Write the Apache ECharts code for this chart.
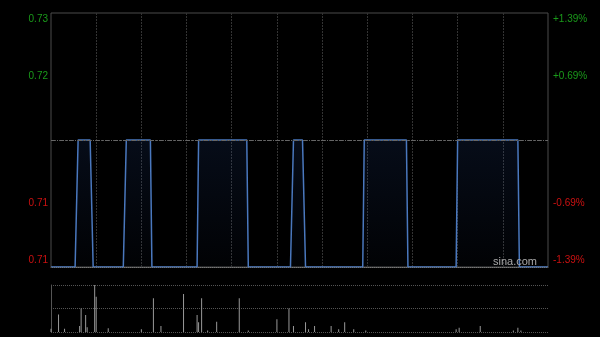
<!DOCTYPE html>
<html>
<head>
<meta charset="utf-8">
<style>html,body{margin:0;padding:0;background:#000;}#c{width:600px;height:337px;}</style>
<script src="https://cdn.jsdelivr.net/npm/echarts@6/dist/echarts.min.js"></script>
</head>
<body>
<div id="c"></div>
<script>
// price read as runs of equal minute values: [price, number of minutes]
const priceRuns = [[0.71,18],[0.72,10],[0.71,22],[0.72,17],[0.71,31],[0.72,33],[0.71,30],[0.72,8],[0.71,39],[0.72,29],[0.71,33],[0.72,41],[0.71,20]];
// volume spikes: [minute index, shares]
const volumes = [[0,7000],[5,37000],[9,7000],[19,13000],[20,50000],[23,36000],[24,10000],[29,100000],[30,75000],[38,8000],[60,6000],[68,72000],[73,13000],[88,81000],[97,36000],[98,21000],[100,72000],[104,3000],[110,22000],[125,72000],[131,3000],[150,27000],[158,50000],[161,13000],[169,21000],[171,6000],[175,13000],[186,13000],[191,6000],[195,21000],[201,6000],[209,3000],[269,6000],[271,9000],[285,13000],[307,3000],[310,9000],[312,3000]];
const prevClose = 0.72;
const priceTicks = [0.71, 0.715, 0.72, 0.725, 0.73];
const leftLabels = ['0.71', '0.71', '', '0.72', '0.73'];
const rightLabels = ['-1.39%', '-0.69%', '', '+0.69%', '+1.39%'];
const volMax = 100000;

const prices = [];
priceRuns.forEach(r => { for (let k = 0; k < r[1]; k++) prices.push(r[0]); });
const cats = prices.map((_, i) => i);

function tickIndex(v) { return Math.round((v - priceTicks[0]) / (priceTicks[1] - priceTicks[0])); }
function makeFmt(labels) {
  return function (v) {
    const i = tickIndex(v);
    const t = labels[i];
    if (!t) return '';
    const n = priceTicks.length - 1;
    const up = priceTicks[i] > prevClose;
    let key = up ? 'g' : 'r';
    if (i === n) key = 'gt';
    if (i === 0) key = 'rb';
    return '{' + key + '|' + t + '}';
  };
}
const GREEN = '#1a9a1a', RED = '#cc1111';
const rich = {
  g: {color: GREEN, fontSize: 10, fontFamily: 'Liberation Sans, Arial, sans-serif'},
  gt: {color: GREEN, fontSize: 10, fontFamily: 'Liberation Sans, Arial, sans-serif', padding: [12, 0, 0, 0]},
  r: {color: RED, fontSize: 10, fontFamily: 'Liberation Sans, Arial, sans-serif'},
  rb: {color: RED, fontSize: 10, fontFamily: 'Liberation Sans, Arial, sans-serif', padding: [0, 0, 13, 0]}
};

const chart = echarts.init(document.getElementById('c'), null, {renderer: 'canvas'});
chart.setOption({
  backgroundColor: '#000',
  animation: false,
  grid: [
    {left: 51, right: 52, top: 13, height: 254, show: true, borderColor: '#4a4a4a', borderWidth: 1, backgroundColor: 'transparent'},
    {left: 51, right: 52, top: 285, height: 47, show: false}
  ],
  xAxis: [
    {type: 'category', gridIndex: 0, data: cats, boundaryGap: false,
     axisLine: {show: true, lineStyle: {color: '#777', width: 1}}, axisTick: {show: false}, axisLabel: {show: false},
     splitLine: {show: true, interval: (i) => i % 30 === 0 && i > 0 && i < 330, lineStyle: {color: '#333', type: [2, 1], width: 1}}},
    {type: 'category', gridIndex: 1, data: cats, boundaryGap: false,
     axisLine: {show: false}, axisTick: {show: false}, axisLabel: {show: false}, splitLine: {show: false}}
  ],
  yAxis: [
    {type: 'value', gridIndex: 0, min: priceTicks[0], max: priceTicks[4], interval: 0.005, position: 'left',
     axisLine: {show: false}, axisTick: {show: false}, splitLine: {show: false},
     axisLabel: {show: true, margin: 3, formatter: makeFmt(leftLabels), rich: rich}},
    {type: 'value', gridIndex: 0, min: priceTicks[0], max: priceTicks[4], interval: 0.005, position: 'right',
     axisLine: {show: false}, axisTick: {show: false}, splitLine: {show: false},
     axisLabel: {show: true, margin: 5, formatter: makeFmt(rightLabels), rich: rich}},
    {type: 'value', gridIndex: 1, min: 0, max: volMax, interval: volMax / 2,
     axisLine: {show: true, lineStyle: {color: '#555'}}, axisTick: {show: false}, axisLabel: {show: false},
     splitLine: {show: true, lineStyle: {color: '#555', type: [1, 1]}}}
  ],
  series: [
    {type: 'line', xAxisIndex: 0, yAxisIndex: 0, data: prices, symbol: 'none', smooth: false,
     lineStyle: {color: '#4a78be', width: 1.5},
     areaStyle: {origin: 'start', color: new echarts.graphic.LinearGradient(0, 0, 0, 1, [
       {offset: 0, color: 'rgba(40,80,160,0.22)'}, {offset: 1, color: 'rgba(40,80,160,0.04)'}])},
     markLine: {silent: true, symbol: 'none', label: {show: false},
       data: [
         {yAxis: priceTicks[1], lineStyle: {color: '#555', type: [1, 1], width: 1}},
         {yAxis: priceTicks[3], lineStyle: {color: '#555', type: [1, 1], width: 1}},
         {yAxis: priceTicks[2], lineStyle: {color: '#666', type: [4, 2, 1, 2], width: 1}}
       ]},
     z: 3},
    {type: 'bar', xAxisIndex: 1, yAxisIndex: 2, data: volumes, barWidth: 1, itemStyle: {color: '#999'}}
  ],
  graphic: [
    {type: 'text', right: 63, top: 256, style: {text: 'sina.com', fill: '#aaa', font: '11px "Liberation Sans", Arial, sans-serif'}, z: 10}
  ]
});
</script>
</body>
</html>
